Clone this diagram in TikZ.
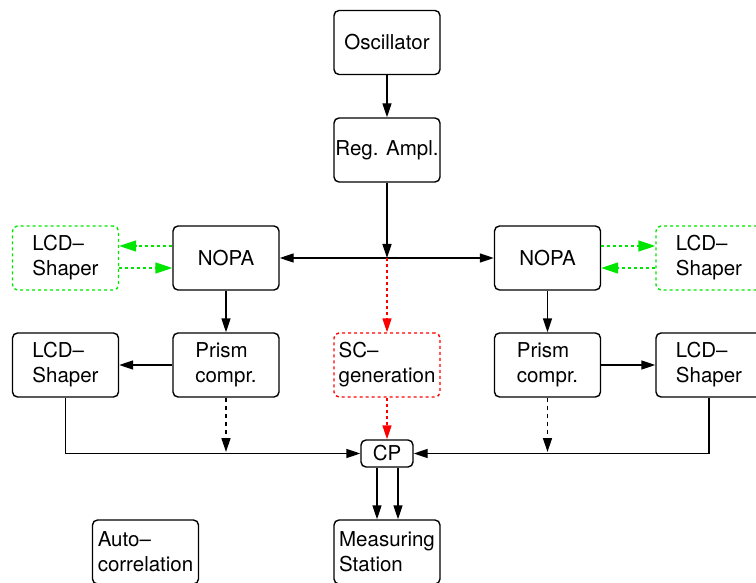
\documentclass[tikz,border=0pt]{standalone}
\usepackage{fontspec}
\setmainfont{TeX Gyre Heros}
\usetikzlibrary{arrows.meta}
\newcommand\diafont{\fontsize{20.5}{25}\selectfont}
\definecolor{lgreen}{RGB}{0,230,0}
\definecolor{lred}{RGB}{255,0,0}
\tikzset{
  box/.style={draw, line width=1.4pt, rounded corners=5pt, minimum width=106pt, minimum height=64pt, inner sep=0pt, align=left, font=\diafont},
  gbox/.style={box, draw=lgreen, dash pattern=on 3pt off 3pt},
  rbox/.style={box, draw=lred, dash pattern=on 3pt off 3pt},
  conn/.style={line width=1.4pt, -{Triangle[length=14pt,width=9pt]}},
  dconn/.style={conn, dash pattern=on 4pt off 4pt},
  gconn/.style={conn, draw=lgreen, -{Triangle[length=17pt,width=11pt,fill=lgreen]}, dash pattern=on 3pt off 3pt},
  rconn/.style={conn, draw=lred, -{Triangle[length=14pt,width=9pt,fill=lred]}, dash pattern=on 3pt off 3pt},
}
\begin{document}
\begin{tikzpicture}[x=1pt,y=-1pt]
\useasboundingbox (0,0) rectangle (756,583);
\node[box] (osc) at (387,42.5) {Oscillator};
\node[box] (amp) at (387,150) {Reg. Ampl.};
\node[box] (nopaL) at (226,258) {NOPA};
\node[box] (nopaR) at (547.5,258) {NOPA};
\node[gbox] (lcdgL) at (65.5,258) {LCD–\\Shaper};
\node[gbox] (lcdgR) at (709,258) {LCD–\\Shaper};
\node[box] (prismL) at (226,365) {Prism\\compr.};
\node[box] (prismR) at (547.5,365) {Prism\\compr.};
\node[box] (lcdL) at (65.5,365) {LCD–\\Shaper};
\node[box] (lcdR) at (709,365) {LCD–\\Shaper};
\node[rbox] (sc) at (387,365) {SC–\\generation};
\node[box, minimum width=52pt, minimum height=27pt, align=center] (cp) at (387,453.5) {CP};
\node[box] (meas) at (387,552) {Measuring\\Station};
\node[box] (auto) at (145.5,552) {Auto–\\correlation};
\coordinate (j) at (387,258);
\coordinate (dL) at (226,452);
\coordinate (dR) at (547.5,452);
% connectors
\draw[conn] (osc) -- (amp);
\draw[conn] (amp) -- (j);
\draw[conn] (j) -- (nopaL);
\draw[conn] (j) -- (nopaR);
\draw[rconn] (j) -- (sc);
\draw[rconn] (sc) -- (cp);
\draw[gconn] ([yshift=12pt]nopaL.west) -- ([yshift=12pt]lcdgL.east);
\draw[gconn] ([yshift=-10pt]lcdgL.east) -- ([yshift=-10pt]nopaL.west);
\draw[gconn] ([yshift=12pt]nopaR.east) -- ([yshift=12pt]lcdgR.west);
\draw[gconn] ([yshift=-10pt]lcdgR.west) -- ([yshift=-10pt]nopaR.east);
\draw[conn] (nopaL) -- (prismL);
\draw[conn] (nopaR) -- (prismR);
\draw[conn] (prismL) -- (lcdL);
\draw[conn] (prismR) -- (lcdR);
\draw[dconn] (prismL) -- (dL);
\draw[dconn] (prismR) -- (dR);
\draw[conn] (lcdL.south) |- (cp.west);
\draw[conn] (lcdR.south) |- (cp.east);
\draw[conn] ([xshift=-10pt]cp.south) -- ([xshift=-10pt]meas.north);
\draw[conn] ([xshift=11pt]cp.south) -- ([xshift=11pt]meas.north);
\end{tikzpicture}
\end{document}
